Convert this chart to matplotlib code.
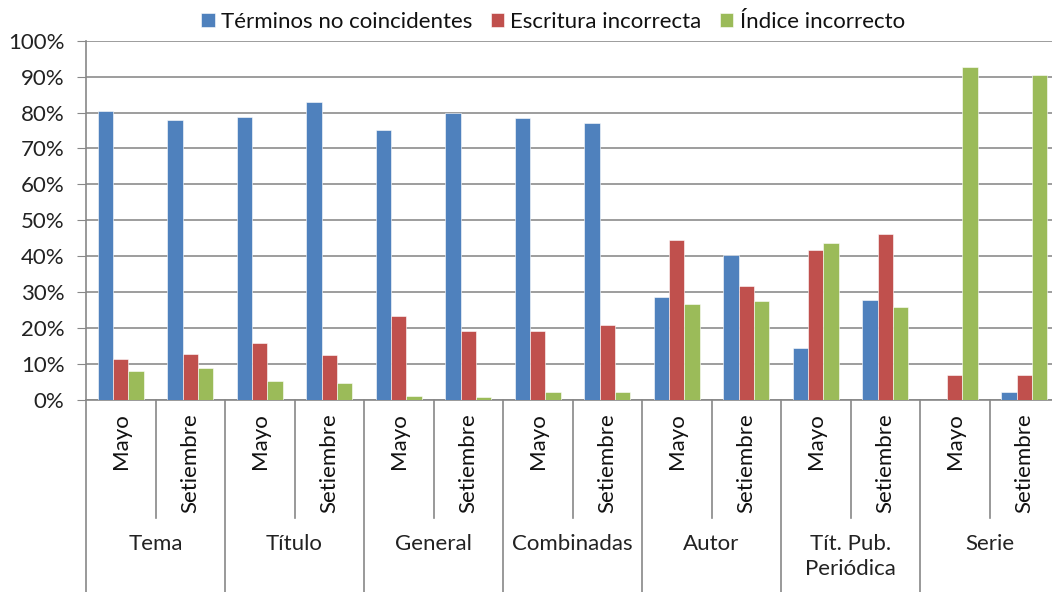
import matplotlib.pyplot as plt
import numpy as np

plt.rcParams['font.family'] = ['Lato', 'DejaVu Sans']

grupos = ['Tema', 'Título', 'General', 'Combinadas', 'Autor', 'Tít. Pub.\nPeriódica', 'Serie']
meses = ['Mayo', 'Setiembre']
series = ['Términos no coincidentes', 'Escritura incorrecta', 'Índice incorrecto']

# valores en %, orden: Tema Mayo, Tema Setiembre, Título Mayo, ...
terminos = [80.5, 78.0, 78.9, 82.8, 75.1, 80.0, 78.6, 77.0, 28.6, 40.4, 14.4, 27.9, 0.0, 2.2]
escritura = [11.5, 12.8, 16.0, 12.4, 23.4, 19.2, 19.2, 20.8, 44.6, 31.7, 41.7, 46.2, 7.0, 7.0]
indice = [8.0, 8.9, 5.2, 4.8, 1.2, 0.9, 2.2, 2.2, 26.6, 27.6, 43.6, 26.0, 92.7, 90.5]

ytick_vals = list(range(0, 101, 10))
ytick_labels = [str(v) + '%' for v in ytick_vals]

colores = ['#4F81BD', '#C0504D', '#9BBB59']
W, H = 1052, 592
fs = 16
fig = plt.figure(figsize=(W / 100, H / 100), dpi=100)
ax = fig.add_axes([86 / W, 1 - 400 / H, 973 / W, 359.3 / H])

x = np.arange(len(terminos))
bw = 0.22
for k, (vals, nombre) in enumerate(zip([terminos, escritura, indice], series)):
    ax.bar(x + (k - 1) * bw, vals, bw, color=colores[k], label=nombre,
           edgecolor='white', linewidth=0.4, zorder=3)

ax.set_xlim(-0.5, len(terminos) - 0.5)
ax.set_ylim(0, 100)
ax.set_yticks(ytick_vals)
ax.set_yticklabels(ytick_labels, fontsize=fs, color='#222222')
ax.tick_params(axis='y', length=6.5, color='#888888', pad=9)
ax.set_xticks([])
ax.yaxis.grid(True, color='#8c8c8c', linewidth=1.2, zorder=0)
for s in ['top', 'right']:
    ax.spines[s].set_visible(False)
ax.spines['left'].set_color('#888888')
ax.spines['bottom'].set_color('#888888')
ax.spines['left'].set_linewidth(1.2)
ax.spines['bottom'].set_linewidth(1.2)

tr = ax.get_xaxis_transform()
px = 1 / 359.3
# separadores
for i in range(len(terminos) + 1):
    b = i - 0.5
    if i % 2 == 0:
        ax.plot([b, b], [0, -200 * px], transform=tr, clip_on=False, color='#888888', lw=1.2)
    else:
        ax.plot([b, b], [0, -118 * px], transform=tr, clip_on=False, color='#888888', lw=1.2)

for i in range(len(terminos)):
    ax.text(i, -13 * px, meses[i % 2], transform=tr, rotation=90, ha='center', va='top',
            fontsize=fs, color='#111111')

for g, nombre in enumerate(grupos):
    ax.text(2 * g + 0.5, -134 * px, nombre, transform=tr, ha='center', va='top',
            fontsize=fs, color='#222222', linespacing=1.3)

fig.legend(loc='center', bbox_to_anchor=(553 / W, 1 - 22 / H), ncol=3, frameon=False,
           fontsize=fs, handlelength=0.6, handleheight=0.6, handletextpad=0.3,
           columnspacing=0.8, labelcolor='#111111')

fig.savefig('out.png', dpi=100)
